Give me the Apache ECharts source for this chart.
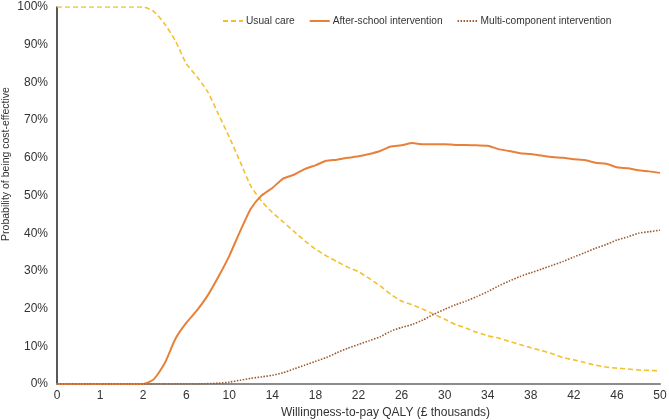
<!DOCTYPE html>
<html>
<head>
<meta charset="utf-8">
<script src="https://cdn.jsdelivr.net/npm/echarts@6/dist/echarts.min.js"></script>
<style>
  html, body { margin: 0; padding: 0; background: #fff; }
  #chart { width: 669px; height: 420px; }
</style>
</head>
<body>
<div id="chart"></div>
<script>
// willingness-to-pay thresholds (£ thousands)
const wtp = ['0', '0.25', '0.5', '0.75', '1', '1.25', '1.5', '1.75', '2',
  '3', '4', '5', '6', '7', '8', '9', '10', '11', '12', '13', '14', '15', '16', '17', '18', '19', '20',
  '21', '22', '23', '24', '25', '26', '27', '28', '29', '30', '31', '32', '33', '34', '35', '36',
  '37', '38', '39', '40', '41', '42', '43', '44', '45', '46', '47', '48', '49', '50']

const usualCare = [100, 100, 100, 100, 100, 100, 100, 100, 100,
  98.8, 95.5, 91, 85, 81.5, 77.5, 71.5, 65.5, 59, 52.5, 48.5, 45.5, 43, 40.5, 38, 35.8, 34, 32.5,
  31, 29.8, 28, 26, 23.8, 22, 21, 19.8, 18.5, 17.2, 15.8, 14.8, 13.7, 12.8, 12.2, 11.3,
  10.5, 9.6, 8.9, 8, 7, 6.4, 5.7, 5, 4.5, 4.2, 4, 3.7, 3.6, 3.5]

const afterSchool = [0, 0, 0, 0, 0, 0, 0, 0, 0,
  1.3, 5.5, 12, 16.2, 19.5, 23.5, 28.5, 34, 40.5, 46.5, 50, 52, 54.5, 55.5, 57, 58, 59.2, 59.5,
  60, 60.4, 61, 61.8, 63, 63.3, 63.9, 63.6, 63.6, 63.6, 63.4, 63.4, 63.3, 63.2, 62.3, 61.8,
  61.2, 61, 60.6, 60.2, 60, 59.6, 59.4, 58.7, 58.4, 57.5, 57.2, 56.7, 56.4, 56]

const multiComponent = [0, 0, 0, 0, 0, 0, 0, 0, 0,
  0, 0, 0, 0, 0, 0.1, 0.2, 0.5, 1, 1.5, 1.9, 2.3, 3, 4, 5, 6, 7, 8.3,
  9.5, 10.5, 11.5, 12.5, 14, 15, 15.8, 17, 18.5, 19.8, 21, 22, 23.2, 24.5, 26, 27.3,
  28.5, 29.5, 30.5, 31.5, 32.5, 33.7, 34.8, 36, 37, 38.2, 39, 40, 40.4, 40.8]

const seriesNames = ['Usual care', 'After-school intervention', 'Multi-component intervention']

const chart = echarts.init(document.getElementById('chart'))

chart.setOption({
  animation: false,
  textStyle: { fontFamily: 'Liberation Sans, Arial, sans-serif' },
  grid: {
    left: 57,
    right: 9,
    top: 7,
    bottom: 36,
    outerBoundsMode: 'none'
  },
  // y axis title, placed by hand like the original
  graphic: [{
    type: 'text',
    x: 6,
    y: 164,
    rotation: Math.PI / 2,
    style: {
      text: 'Probability of being cost-effective',
      fill: '#333',
      font: '10.5px "Liberation Sans", Arial, sans-serif',
      align: 'center',
      verticalAlign: 'middle'
    }
  }],
  legend: {
    data: seriesNames,
    left: 217,
    top: 11,
    itemWidth: 20,
    itemHeight: 10,
    itemGap: 14,
    itemStyle: { opacity: 0 },
    textStyle: { fontSize: 10.2, color: '#333', padding: [0, 0, 0, -2] }
  },
  xAxis: {
    type: 'category',
    data: wtp,
    boundaryGap: false,
    name: 'Willingness-to-pay QALY (£ thousands)',
    nameLocation: 'middle',
    nameGap: 23,
    nameTextStyle: { fontSize: 12, color: '#333', padding: [0, 0, 0, 54] },
    axisTick: { show: false },
    axisLine: { lineStyle: { color: '#8c8c8c', width: 2 } },
    axisLabel: { interval: 3, color: '#333', fontSize: 12, margin: 6 }
  },
  yAxis: {
    type: 'value',
    min: 0,
    max: 100,
    interval: 10,
    axisLine: { show: true, lineStyle: { color: '#222', width: 1.5 } },
    axisTick: { show: false },
    splitLine: { show: false },
    axisLabel: { formatter: '{value}%', color: '#333', fontSize: 12, margin: 9 }
  },
  series: [
    {
      name: seriesNames[0],
      type: 'line',
      data: usualCare,
      smooth: 0.2,
      symbol: 'none',
      itemStyle: { color: '#f2c12e' },
      lineStyle: { color: '#f2c12e', width: 1.6, type: [5, 3] }
    },
    {
      name: seriesNames[1],
      type: 'line',
      data: afterSchool,
      smooth: 0.2,
      symbol: 'none',
      itemStyle: { color: '#e8803a' },
      lineStyle: { color: '#e8803a', width: 2 }
    },
    {
      name: seriesNames[2],
      type: 'line',
      data: multiComponent,
      smooth: 0.2,
      symbol: 'none',
      itemStyle: { color: '#9c5a2e' },
      lineStyle: { color: '#9c5a2e', width: 1.6, type: [1.5, 1.5] }
    }
  ]
})
</script>
</body>
</html>
